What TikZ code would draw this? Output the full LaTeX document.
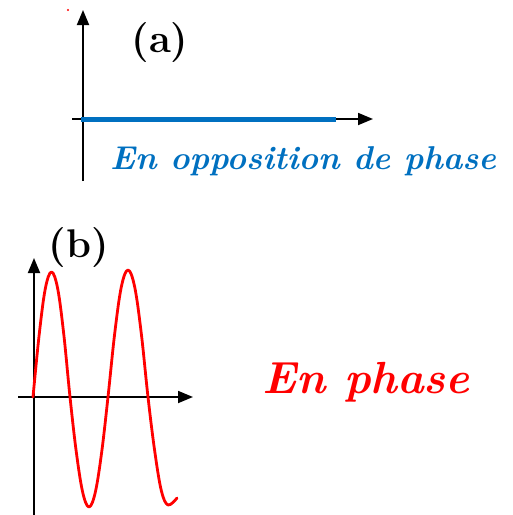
\documentclass[tikz,border=0pt]{standalone}
\usepackage{fontspec}
\usetikzlibrary{arrows.meta}
\definecolor{penblue}{RGB}{0,112,192}
\definecolor{penred}{RGB}{255,0,0}
\tikzset{
  axis/.style={line width=1.8pt,-{Triangle[length=15pt,width=12pt]}},
  lbl/.style={font=\bfseries\fontsize{40}{40}\selectfont, inner sep=0pt},
  hand/.style={font=\bfseries\itshape\fontsize{33}{33}\selectfont, inner sep=0pt}
}
\begin{document}
\begin{tikzpicture}[x=1pt,y=-1pt]
\useasboundingbox (0,0) rectangle (513,515);
% (a)
\coordinate (ay0) at (83,181);
\coordinate (ay1) at (83,10);
\coordinate (ax0) at (72,119);
\coordinate (ax1) at (373,119);
\draw[axis] (ay0) -- (ay1);
\draw[axis] (ax0) -- (ax1);
\coordinate (bl0) at (81,119);
\coordinate (bl1) at (336,119);
\draw[penblue,line width=5pt] (bl0) -- (bl1);
\node[lbl] (la) at (160,43) {(a)};
\node[hand,text=penblue] (ta) at (303,161) {En opposition de phase};
\fill[penred] (68,10) circle (1.2);
% (b)
\coordinate (by0) at (34,515);
\coordinate (by1) at (34,258);
\coordinate (bx0) at (18,397);
\coordinate (bx1) at (193,397);
\draw[axis] (by0) -- (by1);
\draw[axis] (bx0) -- (bx1);
\node[lbl] (lb) at (79,248) {(b)};
\draw[penred,line width=2.8pt,line join=round,line cap=round]
  plot[smooth,tension=0.6] coordinates {(33,397) (39.2,334.5) (45.3,288.7) (51.5,272) (57.7,288.7) (63.8,334.5) (70,397)
   (76.3,452) (82.7,492.3) (89,507) (95.3,492.3) (101.7,452) (108,397)
   (114.7,333.5) (121.3,287) (128,270) (134.7,287) (141.3,333.5) (148,397)
   (154.7,451) (161.3,490.5) (168,505) (177,498)};
\node[hand,text=penred,font=\bfseries\itshape\fontsize{45}{45}\selectfont] (tb) at (366,382) {En phase};
\end{tikzpicture}
\end{document}
